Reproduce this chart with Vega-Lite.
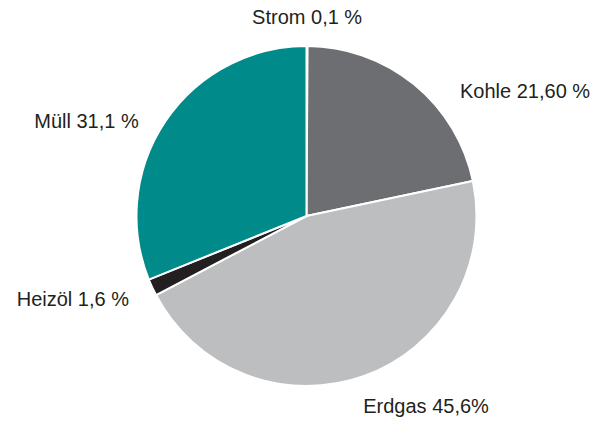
{
  "$schema": "https://vega.github.io/schema/vega-lite/v6.json",
  "width": 589,
  "height": 418,
  "autosize": "none",
  "padding": {"left": 12, "right": 0, "top": 7, "bottom": 0},
  "background": "white",
  "view": {"stroke": null},
  "data": {
    "values": [
      {"category": "Strom", "value": 0.1, "order": 1, "label": "Strom 0,1 %"},
      {"category": "Kohle", "value": 21.6, "order": 2, "label": "Kohle 21,60 %"},
      {"category": "Erdgas", "value": 45.6, "order": 3, "label": "Erdgas 45,6%"},
      {"category": "Heizöl", "value": 1.6, "order": 4, "label": "Heizöl 1,6 %"},
      {"category": "Müll", "value": 31.1, "order": 5, "label": "Müll 31,1 %"}
    ]
  },
  "encoding": {
    "theta": {"field": "value", "type": "quantitative", "stack": true},
    "order": {"field": "order", "type": "quantitative"}
  },
  "layer": [
    {
      "mark": {"type": "arc", "outerRadius": 170, "stroke": "white", "strokeWidth": 2},
      "encoding": {
        "color": {
          "field": "category",
          "type": "nominal",
          "scale": {
            "domain": ["Strom", "Kohle", "Erdgas", "Heizöl", "Müll"],
            "range": ["#bcbec0", "#6d6e71", "#bcbec0", "#231f20", "#008a8a"]
          },
          "legend": null
        }
      }
    },
    {
      "mark": {"type": "text", "radius": 198, "align": "center", "baseline": "middle", "font": "Liberation Sans", "fontSize": 20, "color": "#231f20"},
      "encoding": {"text": {"condition": {"test": "datum.category === 'Strom'", "field": "label"}, "value": ""}}
    },
    {
      "mark": {"type": "text", "radius": 200, "align": "left", "baseline": "middle", "dx": 27, "dy": 31, "font": "Liberation Sans", "fontSize": 20, "color": "#231f20"},
      "encoding": {"text": {"condition": {"test": "datum.category === 'Kohle'", "field": "label"}, "value": ""}}
    },
    {
      "mark": {"type": "text", "radius": 200, "align": "left", "baseline": "middle", "dx": -11, "dy": 3, "font": "Liberation Sans", "fontSize": 20, "color": "#231f20"},
      "encoding": {"text": {"condition": {"test": "datum.category === 'Erdgas'", "field": "label"}, "value": ""}}
    },
    {
      "mark": {"type": "text", "radius": 200, "align": "right", "baseline": "middle", "dx": 4, "dy": 0, "font": "Liberation Sans", "fontSize": 20, "color": "#231f20"},
      "encoding": {"text": {"condition": {"test": "datum.category === 'Heizöl'", "field": "label"}, "value": ""}}
    },
    {
      "mark": {"type": "text", "radius": 200, "align": "right", "baseline": "middle", "dx": -2, "dy": 18, "font": "Liberation Sans", "fontSize": 20, "color": "#231f20"},
      "encoding": {"text": {"condition": {"test": "datum.category === 'Müll'", "field": "label"}, "value": ""}}
    }
  ]
}
